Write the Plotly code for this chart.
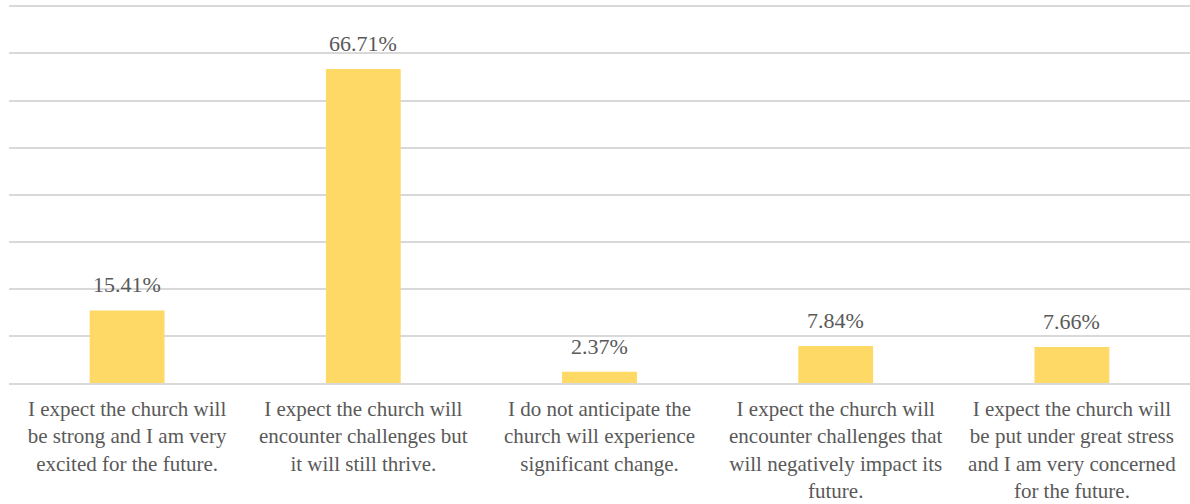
import plotly.graph_objects as go

categories = [
    "I expect the church will<br>be strong and I am very<br>excited for the future.",
    "I expect the church will<br>encounter challenges but<br>it will still thrive.",
    "I do not anticipate the<br>church will experience<br>significant change.",
    "I expect the church will<br>encounter challenges that<br>will negatively impact its<br>future.",
    "I expect the church will<br>be put under great stress<br>and I am very concerned<br>for the future.",
]
values = [15.41, 66.71, 2.37, 7.84, 7.66]
value_labels = ["15.41%", "66.71%", "2.37%", "7.84%", "7.66%"]

FONT = "Liberation Serif, Times New Roman, serif"
TEXT_COLOR = "#595959"

fig = go.Figure(
    go.Bar(
        x=categories,
        y=values,
        marker=dict(color="#FFD966", line=dict(width=0)),
        hoverinfo="skip",
    )
)

# value labels sit just above each bar
for cat, val, lab in zip(categories, values, value_labels):
    fig.add_annotation(
        x=cat,
        y=val,
        text=lab,
        showarrow=False,
        yanchor="bottom",
        yshift=11,
        font=dict(family=FONT, size=22, color=TEXT_COLOR),
    )

fig.update_layout(
    width=1190,
    height=504,
    margin=dict(l=9, r=0, t=5, b=121),
    paper_bgcolor="white",
    plot_bgcolor="white",
    bargap=0.683,
    showlegend=False,
    font=dict(family=FONT, size=21, color=TEXT_COLOR),
)
fig.update_yaxes(
    range=[0, 80.3],
    tickvals=[0, 10, 20, 30, 40, 50, 60, 70, 80],
    showticklabels=False,
    showgrid=True,
    gridcolor="#D9D9D9",
    gridwidth=1.5,
    zeroline=False,
    showline=False,
)
fig.update_xaxes(
    showgrid=False,
    showline=True,
    linecolor="#D9D9D9",
    linewidth=1.5,
    ticks="outside",
    ticklen=6,
    tickcolor="rgba(0,0,0,0)",
    tickangle=0,
    tickfont=dict(family=FONT, size=21, color=TEXT_COLOR),
)

fig.write_html("out.html")
